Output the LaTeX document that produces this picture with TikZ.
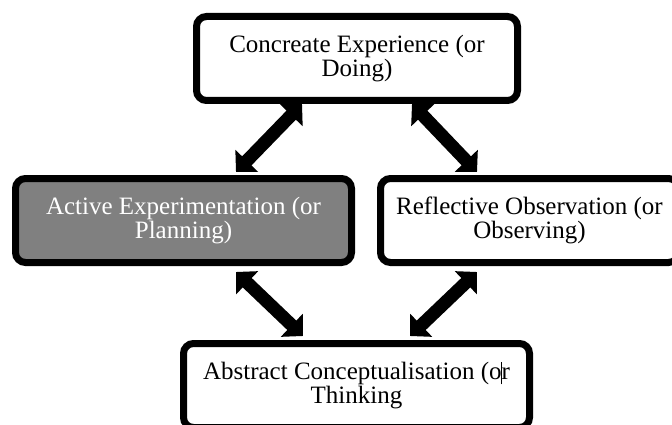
\documentclass[tikz,border=0pt]{standalone}
\usepackage{fontspec}
\setmainfont{Liberation Serif}
\usetikzlibrary{arrows.meta,shadows}
\begin{document}
\begin{tikzpicture}[x=1pt,y=-1pt,
  stagebox/.style={draw=black, line width=7pt, rounded corners=10pt, fill=white,
    align=center, inner sep=0pt, minimum height=84pt,
    font=\fontsize{25}{24}\selectfont,
    drop shadow={shadow xshift=2pt, shadow yshift=-2pt, opacity=0.3}},
  twoway/.style={draw=black, line width=13pt,
    {Triangle[width=31pt,length=15.5pt]}-{Triangle[width=31pt,length=15.5pt]}}]
  \useasboundingbox (0,0) rectangle (672,425);
  \clip (0,0) rectangle (672,425);

  % end points of the four double-headed arrows
  \coordinate (tl1) at (302,104);
  \coordinate (tl2) at (236,172);
  \coordinate (tr1) at (412,104);
  \coordinate (tr2) at (477,172);
  \coordinate (bl1) at (236,272);
  \coordinate (bl2) at (303,336);
  \coordinate (br1) at (477,272);
  \coordinate (br2) at (410,336);

  \draw[twoway] (tl1) -- (tl2);
  \draw[twoway] (tr1) -- (tr2);
  \draw[twoway] (bl1) -- (bl2);
  \draw[twoway] (br1) -- (br2);

  % the four stages of the cycle
  \node[stagebox, minimum width=321pt] (doing) at (357,58.5)
    {Concreate Experience (or\\Doing)};
  \node[stagebox, minimum width=336pt, fill=black!50, text=white] (planning) at (183.5,220.5)
    {Active Experimentation (or\\Planning)};
  \node[stagebox, minimum width=298pt] (observing) at (529.5,220.5)
    {Reflective Observation (or\\Observing)};
  \node[stagebox, minimum width=346pt] (thinking) at (356.5,385.5)
    {Abstract Conceptualisation (o\makebox[0pt]{\rule[-5pt]{1.2pt}{22pt}}r\\Thinking};
\end{tikzpicture}
\end{document}
